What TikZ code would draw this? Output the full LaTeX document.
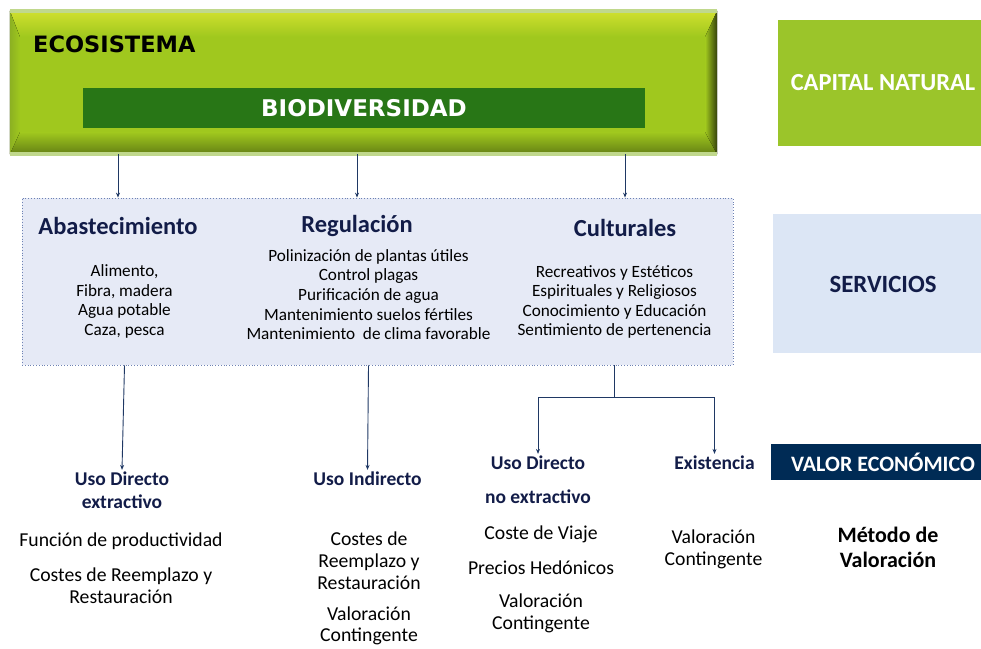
\documentclass[tikz,border=0pt]{standalone}
\usepackage{fontspec}
\setmainfont{Carlito}
\newfontfamily\ecofont{DejaVu Sans}
\usetikzlibrary{arrows.meta, positioning}

\definecolor{ecogreen}{RGB}{160,200,30}
\definecolor{ecolight}{RGB}{208,224,46}
\definecolor{ecodark}{RGB}{100,128,20}
\definecolor{ecoedge}{RGB}{52,64,12}
\definecolor{ecoleft}{RGB}{140,176,34}
\definecolor{ecorim}{RGB}{192,216,140}
\definecolor{biogreen}{RGB}{40,118,22}
\definecolor{capgreen}{RGB}{155,197,42}
\definecolor{servfill}{RGB}{230,234,246}
\definecolor{servrim}{RGB}{110,130,180}
\definecolor{sidefill}{RGB}{220,230,245}
\definecolor{navytext}{RGB}{18,28,72}
\definecolor{linknavy}{RGB}{31,56,100}
\definecolor{valornavy}{RGB}{0,43,85}

\begin{document}
\begin{tikzpicture}[x=1pt, y=-1pt,
    head/.style={font=\fontsize{24.5}{28}\selectfont\bfseries, text=navytext, inner sep=1pt},
    items/.style={align=center, font=\fontsize{17.2}{19.6}\selectfont, inner sep=1pt},
    usehead/.style={align=center, font=\fontsize{19.5}{23}\selectfont\bfseries, text=navytext, inner sep=2pt},
    method/.style={align=center, font=\fontsize{19.7}{22}\selectfont, inner sep=1pt},
    sidebox/.style={rectangle, inner sep=0pt, font=\bfseries},
    conn/.style={draw=linknavy, line width=0.9pt, -{Stealth[length=5pt, width=4pt]}},
    link/.style={draw=linknavy, line width=0.9pt}
]
\useasboundingbox (0,0) rectangle (981,648);

% Capital natural
\node[fill=ecogreen, minimum width=707pt, minimum height=143pt, inner sep=0pt] (eco) at (363.5,82.5) {};
\fill[top color=ecolight, bottom color=ecogreen] (eco.north west) -- (eco.north east)
  -- ([xshift=-12pt, yshift=-26pt]eco.north east) -- ([xshift=10pt, yshift=-26pt]eco.north west) -- cycle;
\fill[top color=ecogreen, bottom color=ecodark] ([xshift=10pt, yshift=22pt]eco.south west)
  -- ([xshift=-12pt, yshift=22pt]eco.south east) -- (eco.south east) -- (eco.south west) -- cycle;
\fill[left color=ecogreen, right color=ecoedge] ([xshift=-12pt, yshift=-26pt]eco.north east)
  -- (eco.north east) -- (eco.south east) -- ([xshift=-12pt, yshift=22pt]eco.south east) -- cycle;
\fill[left color=ecoleft, right color=ecogreen] (eco.north west) -- ([xshift=10pt, yshift=-26pt]eco.north west)
  -- ([xshift=10pt, yshift=22pt]eco.south west) -- (eco.south west) -- cycle;
\draw[ecorim, line width=3.5pt] (eco.north west) -- (eco.north east);
\draw[ecorim, line width=3.5pt] (eco.south west) -- (eco.south east);
\node[anchor=west, font=\ecofont\bfseries\fontsize{22.5}{26}\selectfont, inner sep=0pt] (ecotxt) at (33,44) {ECOSISTEMA};
\node[fill=biogreen, minimum width=562pt, minimum height=40pt, inner sep=0pt, text=white,
      font=\ecofont\bfseries\fontsize{23}{26}\selectfont] (bio) at (364,108) {BIODIVERSIDAD};

% Servicios
\node[draw=servrim, dotted, line width=0.8pt, fill=servfill, minimum width=711pt, minimum height=167pt,
      inner sep=0pt] (serv) at (377.5,281.5) {};
\node[head] (abas) at (118,226) {Abastecimiento};
\node[head] (regu) at (357,226) {Regulación};
\node[head] (cult) at (625,228) {Culturales};
\node[items] (abasit) at (124.5,301.5) {Alimento,\\Fibra, madera\\Agua potable\\Caza, pesca};
\node[items] (reguit) at (368.5,294.6) {Polinización de plantas útiles\\Control plagas\\Purificación de agua\\Mantenimiento suelos fértiles\\Mantenimiento\ \ de clima favorable};
\node[items] (cultit) at (614.5,302) {Recreativos y Estéticos\\Espirituales y Religiosos\\Conocimiento y Educación\\Sentimiento de pertenencia};

\draw[conn] (eco.south -| abas) -- (serv.north -| abas);
\draw[conn] (eco.south -| regu) -- (serv.north -| regu);
\draw[conn] (eco.south -| cult) -- (serv.north -| cult);

% Columna derecha
\node[sidebox, fill=capgreen, minimum width=203pt, minimum height=126pt] (capital) at (879.5,83) {};
\node[text=white, font=\bfseries\fontsize{24.5}{28}\selectfont, inner sep=0pt] (captxt) at (883,83) {CAPITAL NATURAL};
\node[sidebox, fill=sidefill, minimum width=208pt, minimum height=139pt] (servside) at (877,283.5) {};
\node[text=navytext, font=\bfseries\fontsize{24.8}{28}\selectfont, inner sep=0pt] (servtxt) at (883,284) {SERVICIOS};
\node[sidebox, fill=valornavy, minimum width=210pt, minimum height=36pt] (valor) at (876,462) {};
\node[text=white, font=\bfseries\fontsize{22}{25}\selectfont, inner sep=0pt] (valtxt) at (883,462) {VALOR ECONÓMICO};
\node[method, font=\bfseries\fontsize{22}{25}\selectfont] (metodo) at (888,547.5) {Método de\\Valoración};

% Valor economico
\node[usehead] (udx) at (122,490.5) {Uso Directo\\extractivo};
\node[method] (udxa) at (121,541) {Función de productividad};
\node[method] (udxb) at (121,586) {Costes de Reemplazo y\\Restauración};

\node[usehead] (uind) at (367.5,479) {Uso Indirecto};
\node[method] (uinda) at (369,561) {Costes de\\Reemplazo y\\Restauración};
\node[method, font=\fontsize{19.7}{21}\selectfont] (uindb) at (369,625.5) {Valoración\\Contingente};

\node[usehead, font=\fontsize{19.5}{34}\selectfont\bfseries] (udn) at (538,480) {Uso Directo\\no extractivo};
\node[method] (udna) at (541,534) {Coste de Viaje};
\node[method] (udnb) at (541,568) {Precios Hedónicos};
\node[method] (udnc) at (541,613.5) {Valoración\\Contingente};

\node[usehead] (exis) at (714.5,463) {Existencia};
\node[method] (exisa) at (713.5,549) {Valoración\\Contingente};

\draw[conn] (serv.south -| abasit) -- (udx.north);
\draw[conn] (serv.south -| reguit) -- (uind.north);
\coordinate (rama) at (614.5,397);
\draw[link] (serv.south -| rama) -- (rama);
\draw[conn] (rama) -| (exis.north);
\draw[conn] (rama) -| (udn.north);

\end{tikzpicture}
\end{document}
